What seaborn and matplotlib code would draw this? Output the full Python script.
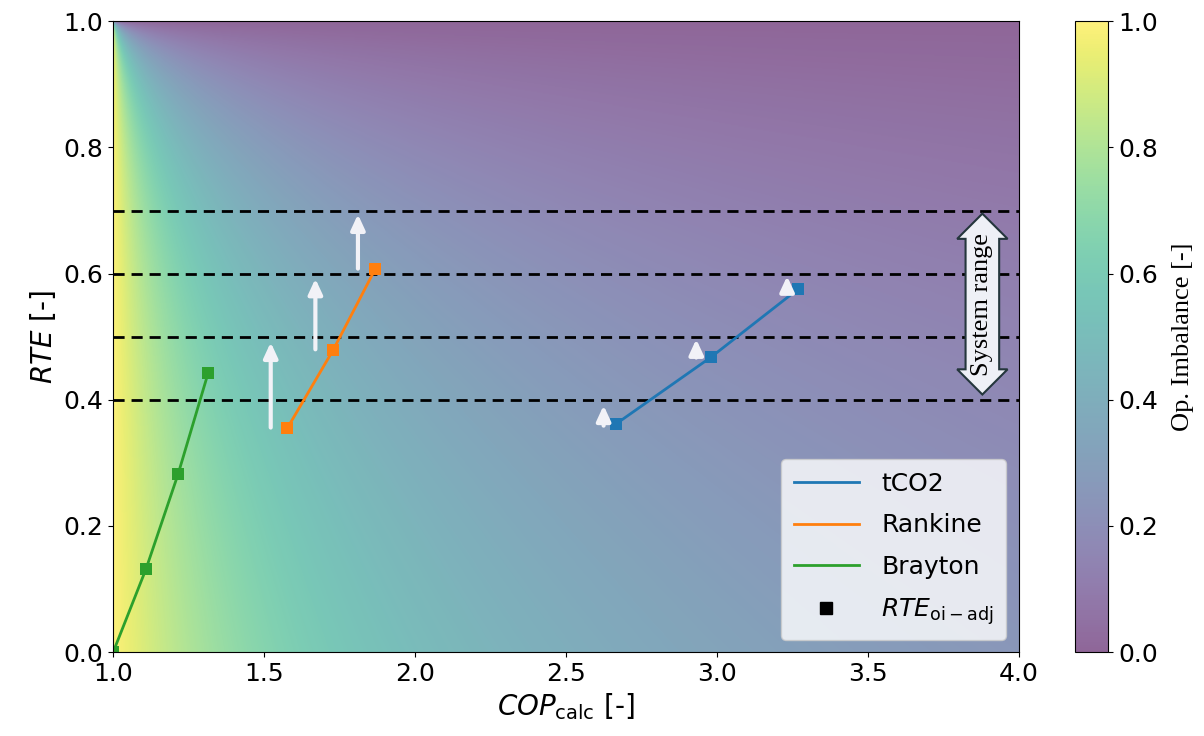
import numpy as np
import pandas as pd
import seaborn as sns
import matplotlib.pyplot as plt
from matplotlib.lines import Line2D

# measured points (COP_calc, RTE_oi-adj)
tco2_cop = [2.667, 2.982, 3.268]
tco2_rte = [0.362, 0.468, 0.575]
rankine_cop = [1.577, 1.729, 1.868]
rankine_rte = [0.355, 0.479, 0.607]
brayton_cop = [1.0, 1.109, 1.215, 1.315]
brayton_rte = [0.0, 0.132, 0.282, 0.443]

# white arrows (x, start, end)
arrow_x = [1.522, 1.670, 1.811, 2.625, 2.932, 3.233]
arrow_y0 = [0.356, 0.480, 0.608, 0.359, 0.467, 0.575]
arrow_y1 = [0.491, 0.592, 0.694, 0.391, 0.496, 0.596]

range_lines = [0.4, 0.5, 0.6, 0.7]

# background field: operational imbalance
cop_grid = np.linspace(1.0, 4.0, 901)[:-1] + 3.0 / 1800
rte_grid = np.linspace(0.0, 1.0, 601)[:-1] + 1.0 / 1200
C, R = np.meshgrid(cop_grid, rte_grid)
imbalance = (1 - R) / (C - R)

df = pd.DataFrame({
    'cop': tco2_cop + rankine_cop + brayton_cop,
    'rte': tco2_rte + rankine_rte + brayton_rte,
    'cycle': ['tCO2'] * 3 + ['Rankine'] * 3 + ['Brayton'] * 4,
})
palette = {'tCO2': '#1f77b4', 'Rankine': '#ff7f0e', 'Brayton': '#2ca02c'}

fig = plt.figure(figsize=(12.04, 7.36), dpi=100)
ax = fig.add_axes([0.094, 0.114, 0.752, 0.857])
cax = fig.add_axes([0.893, 0.114, 0.0275, 0.857])

im = ax.imshow(imbalance, extent=[1, 4, 0, 1], origin='lower', aspect='auto',
               cmap='viridis', vmin=0, vmax=1, alpha=0.6, interpolation='bilinear')

for y in range_lines:
    ax.axhline(y, color='black', ls='--', lw=2, dashes=(4, 2.5))

for x, y0, y1 in zip(arrow_x, arrow_y0, arrow_y1):
    ax.annotate('', xy=(x, y1), xytext=(x, y0),
                arrowprops=dict(arrowstyle='-|>,head_width=0.3,head_length=0.65',
                                mutation_scale=14, lw=3, color='#f2f2f7',
                                shrinkA=0, shrinkB=0))

sns.lineplot(data=df, x='cop', y='rte', hue='cycle', palette=palette,
             marker='s', markersize=9, markeredgewidth=0, lw=2,
             sort=False, legend=False, ax=ax)

ax.text(3.88, 0.551, 'System range', rotation=90, ha='center', va='center',
        fontsize=19, family='Liberation Serif',
        bbox=dict(boxstyle='darrow,pad=0.22', fc='#eef0f6', ec='#24363c', lw=1.5))

ax.set_xlim(1, 4)
ax.set_ylim(0, 1)
ax.set_xticks(np.arange(1.0, 4.01, 0.5))
ax.set_yticks(np.arange(0, 1.01, 0.2))
ax.tick_params(labelsize=18)
ax.set_xlabel(r'$COP_{\mathrm{calc}}$ [-]', fontsize=20)
ax.set_ylabel(r'$RTE$ [-]', fontsize=20)

handles = [Line2D([], [], color=palette[k], lw=2) for k in ['tCO2', 'Rankine', 'Brayton']]
handles.append(Line2D([], [], color='black', marker='s', ls='none', markersize=9))
labels = ['tCO2', 'Rankine', 'Brayton', r'$RTE_{\mathrm{oi-adj}}$']
ax.legend(handles, labels, loc='lower right', fontsize=18, handlelength=2.6,
          labelspacing=0.7, borderpad=0.5, handletextpad=0.9)

cb = fig.colorbar(im, cax=cax)
cb.set_ticks(np.arange(0, 1.01, 0.2))
cb.ax.tick_params(labelsize=18)
cb.set_label('Op. Imbalance [-]', fontsize=19, family='Liberation Serif', labelpad=10)

fig.savefig('out.png', dpi=100)
